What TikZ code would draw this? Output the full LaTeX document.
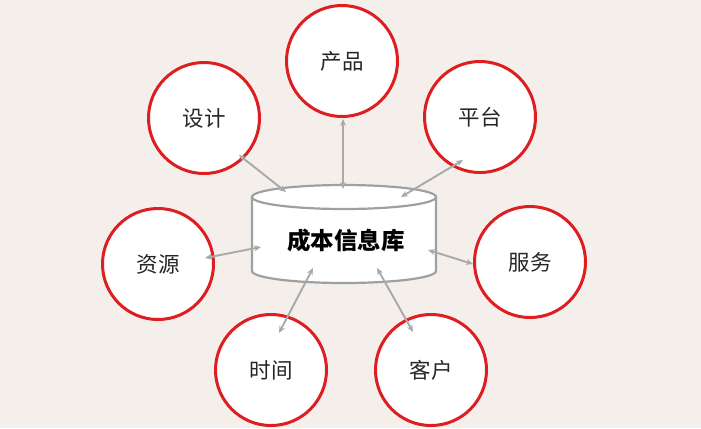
\documentclass[tikz,border=0pt]{standalone}
\usepackage{fontspec}
\newfontfamily\cjk{Noto Sans CJK SC}
\usetikzlibrary{arrows.meta}
\definecolor{bg}{HTML}{F4EFEB}
\definecolor{ring}{HTML}{DD1F22}
\definecolor{conn}{HTML}{A9A9A9}
\definecolor{dbline}{HTML}{A0A0A0}
\begin{document}
\begin{tikzpicture}[x=1bp,y=-1bp,
  topic/.style={circle,draw=ring,line width=3bp,fill=white,minimum size=111bp,inner sep=0pt,
    font=\cjk\fontsize{21.5bp}{24bp}\selectfont,text=black!85},
  link/.style={draw=conn,line width=1.9bp,{Stealth[length=7bp,width=6bp]}-{Stealth[length=7bp,width=6bp]}}]
\fill[bg] (0,0) rectangle (701,428);
\useasboundingbox (0,0) rectangle (701,428);
% cylinder
\filldraw[draw=dbline,line width=2.2bp,fill=white]
  (252,197) -- (252,271) arc[start angle=180,end angle=360,x radius=92bp,y radius=12bp]
  -- (436,197) arc[start angle=0,end angle=180,x radius=92bp,y radius=12bp] -- cycle;
\draw[dbline,line width=2.2bp] (252,197) arc[start angle=180,end angle=360,x radius=92bp,y radius=12bp];
\node[font=\cjk\bfseries\fontsize{23.5bp}{26bp}\selectfont] (db) at (346,241) {成本信息库};
% circles
\node[topic] (cp) at (342,61) {产品};
\node[topic] (sj) at (204,118) {设计};
\node[topic] (pt) at (480,117) {平台};
\node[topic] (zy) at (158,264) {资源};
\node[topic] (fw) at (530,262) {服务};
\node[topic] (sh) at (271,370) {时间};
\node[topic] (kh) at (431,370) {客户};
% connector end points
\coordinate (cp1) at (343,119); \coordinate (cp2) at (343,189);
\coordinate (sj1) at (239,155); \coordinate (sj2) at (286,192);
\coordinate (pt1) at (463,160); \coordinate (pt2) at (401,197);
\coordinate (zy1) at (205,258); \coordinate (zy2) at (261,247);
\coordinate (fw1) at (428,250); \coordinate (fw2) at (473,264);
\coordinate (sh1) at (279,333); \coordinate (sh2) at (313,268);
\coordinate (kh1) at (413,332); \coordinate (kh2) at (377,268);
\draw[link] (cp1) -- (cp2);
\draw[link] (sj1) -- (sj2);
\draw[link] (pt1) -- (pt2);
\draw[link] (zy1) -- (zy2);
\draw[link] (fw1) -- (fw2);
\draw[link] (sh1) -- (sh2);
\draw[link] (kh1) -- (kh2);
\end{tikzpicture}
\end{document}
